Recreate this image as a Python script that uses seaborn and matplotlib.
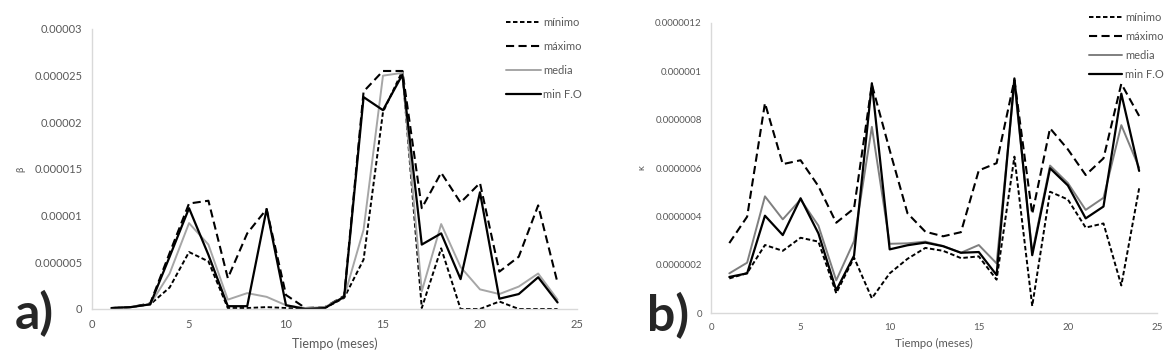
import matplotlib
matplotlib.use('Agg')
import matplotlib.pyplot as plt
import seaborn as sns
import pandas as pd

meses = list(range(1, 25))
series = ['mínimo', 'máximo', 'media', 'min F.O']

# beta (panel a)
beta_min = [1e-7, 2e-7, 5e-7, 2.3e-6, 6.1e-6, 5.1e-6, 1e-7, 1e-7, 2e-7, 1e-7, 0, 1e-7,
            1.2e-6, 5.3e-6, 2.11e-5, 2.55e-5, 1e-7, 6.5e-6, 0, 0, 8e-7, 0, 0, 0]
beta_max = [1e-7, 2e-7, 6e-7, 6.0e-6, 1.13e-5, 1.16e-5, 3.3e-6, 8.1e-6, 1.07e-5, 1.5e-6, 1e-7, 2e-7,
            1.4e-6, 2.33e-5, 2.55e-5, 2.55e-5, 1.08e-5, 1.46e-5, 1.14e-5, 1.35e-5, 4.0e-6, 5.6e-6, 1.11e-5, 2.8e-6]
beta_media = [1e-7, 2e-7, 5e-7, 3.8e-6, 9.2e-6, 6.9e-6, 1.0e-6, 1.7e-6, 1.3e-6, 4e-7, 1e-7, 2e-7,
              1.3e-6, 8.5e-6, 2.5e-5, 2.53e-5, 1.9e-6, 9.1e-6, 4.5e-6, 2.1e-6, 1.6e-6, 2.4e-6, 3.8e-6, 1.0e-6]
beta_fo = [1e-7, 2e-7, 5e-7, 5.6e-6, 1.08e-5, 5.8e-6, 3e-7, 3e-7, 1.07e-5, 4e-7, 0, 1e-7,
           1.3e-6, 2.27e-5, 2.13e-5, 2.51e-5, 6.9e-6, 8.1e-6, 3.2e-6, 1.25e-5, 1.1e-6, 1.6e-6, 3.4e-6, 7e-7]

# kappa (panel b)
k_min = [1.44e-7, 1.66e-7, 2.82e-7, 2.58e-7, 3.12e-7, 2.96e-7, 0.83e-7, 2.3e-7, 0.62e-7, 1.65e-7, 2.25e-7, 2.7e-7,
         2.58e-7, 2.28e-7, 2.35e-7, 1.39e-7, 6.47e-7, 0.3e-7, 5.02e-7, 4.7e-7, 3.54e-7, 3.71e-7, 1.15e-7, 5.16e-7]
k_max = [2.9e-7, 3.99e-7, 8.68e-7, 6.16e-7, 6.32e-7, 5.25e-7, 3.74e-7, 4.33e-7, 9.45e-7, 6.74e-7, 4.13e-7, 3.37e-7,
         3.18e-7, 3.35e-7, 5.9e-7, 6.2e-7, 9.63e-7, 4.1e-7, 7.64e-7, 6.77e-7, 5.71e-7, 6.4e-7, 9.48e-7, 8.15e-7]
k_media = [1.65e-7, 2.09e-7, 4.83e-7, 3.88e-7, 4.7e-7, 3.62e-7, 1.36e-7, 2.98e-7, 7.7e-7, 2.87e-7, 2.89e-7, 2.96e-7,
           2.78e-7, 2.5e-7, 2.82e-7, 2.06e-7, 9.5e-7, 2.5e-7, 6.1e-7, 5.38e-7, 4.27e-7, 4.77e-7, 7.77e-7, 6.01e-7]
k_fo = [1.5e-7, 1.65e-7, 4.03e-7, 3.23e-7, 4.75e-7, 3.3e-7, 0.95e-7, 2.38e-7, 9.5e-7, 2.64e-7, 2.81e-7, 2.92e-7,
        2.77e-7, 2.5e-7, 2.53e-7, 1.58e-7, 9.7e-7, 2.4e-7, 5.99e-7, 5.28e-7, 3.92e-7, 4.41e-7, 9.07e-7, 5.88e-7]

x_ticks = [0, 5, 10, 15, 20, 25]
beta_ticks = [0, 0.000005, 0.00001, 0.000015, 0.00002, 0.000025, 0.00003]
beta_ticklabels = ['0', '0.000005', '0.00001', '0.000015', '0.00002', '0.000025', '0.00003']
k_ticks = [0, 2e-7, 4e-7, 6e-7, 8e-7, 1e-6, 1.2e-6]
k_ticklabels = ['0', '0.0000002', '0.0000004', '0.0000006', '0.0000008', '0.000001', '0.0000012']

sns.set_style('white')
plt.rcParams['font.family'] = ['Lato', 'DejaVu Sans']

styles = {
    'mínimo': dict(dash=(2.3, 1.3), lw=1.4),
    'máximo': dict(dash=(3.9, 2.1), lw=1.5),
    'media': dict(dash=None, lw=1.4),
    'min F.O': dict(dash=None, lw=1.6),
}

fig = plt.figure(figsize=(11.71, 3.57), dpi=100)
ax_a = fig.add_axes([0.0786, 0.1345, 0.4141, 0.7843])
ax_b = fig.add_axes([0.6076, 0.1224, 0.3804, 0.8140])

# ax, data, media colour, y label, ticks, tick labels, ymax, tick font, x label font
panels = [
    (ax_a, [beta_min, beta_max, beta_media, beta_fo], '#a6a6a6', 'β', beta_ticks, beta_ticklabels, 0.00003, 8, 9),
    (ax_b, [k_min, k_max, k_media, k_fo], '#7f7f7f', 'κ', k_ticks, k_ticklabels, 1.2e-6, 7, 8.2),
]

for ax, vals, media_color, ylab, yt, ytl, ymax, tfs, lfs in panels:
    for name, v in zip(series, vals):
        st = styles[name]
        color = media_color if name == 'media' else 'black'
        df = pd.DataFrame({'Tiempo': meses, 'valor': v})
        sns.lineplot(data=df, x='Tiempo', y='valor', ax=ax, color=color, lw=st['lw'], label=name)
        if st['dash'] is not None:
            ax.lines[-1].set_dashes(st['dash'])
    ax.set_xlim(0, 25)
    ax.set_ylim(0, ymax)
    ax.set_xticks(x_ticks)
    ax.set_yticks(yt)
    ax.set_yticklabels(ytl)
    ax.tick_params(labelsize=tfs, colors='#595959', length=0, pad=7)
    for s in ['top', 'right']:
        ax.spines[s].set_visible(False)
    for s in ['left', 'bottom']:
        ax.spines[s].set_color('#d9d9d9')
        ax.spines[s].set_linewidth(1)
    ax.set_xlabel('Tiempo (meses)', fontsize=lfs, color='#595959')
    ax.set_ylabel(ylab, fontsize=7, color='#595959')
    ax.get_legend().remove()

ax_a.xaxis.set_label_coords(0.5, -0.10)
ax_a.yaxis.set_label_coords(-0.138, 0.5)
ax_b.xaxis.set_label_coords(0.5, -0.085)
ax_b.yaxis.set_label_coords(-0.147, 0.5)

leg_a = ax_a.legend(loc='upper left', bbox_to_anchor=(500 / 1171, 1 - 11 / 357), bbox_transform=fig.transFigure,
                    frameon=False, fontsize=8, handlelength=3.15, handletextpad=0.25, labelspacing=1.19, borderpad=0)
leg_b = ax_b.legend(loc='upper left', bbox_to_anchor=(1083 / 1171, 1 - 6 / 357), bbox_transform=fig.transFigure,
                    frameon=False, fontsize=8, handlelength=3.05, handletextpad=0.25, labelspacing=0.73, borderpad=0)
for leg in [leg_a, leg_b]:
    for t in leg.get_texts():
        t.set_color('#595959')

fig.text(15 / 1171, 1 - 329 / 357, 'a)', fontsize=36, fontweight='bold', va='baseline')
fig.text(647 / 1171, 1 - 331 / 357, 'b)', fontsize=36, fontweight='bold', va='baseline')

plt.savefig('out.png', dpi=100)
